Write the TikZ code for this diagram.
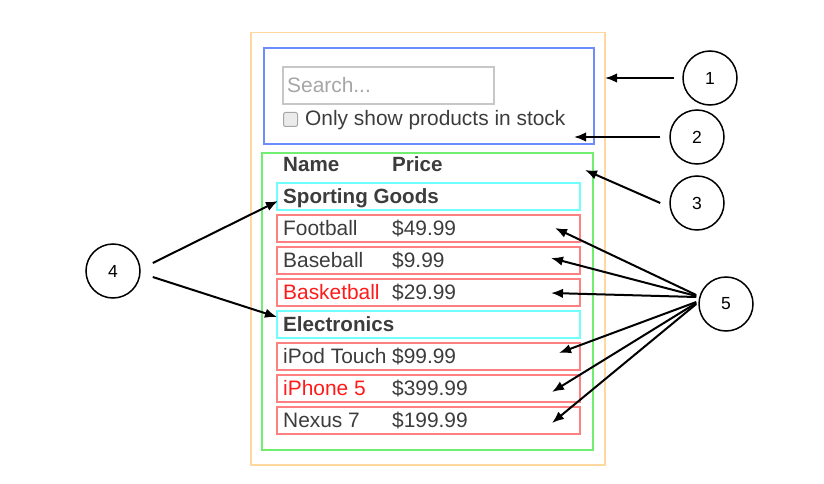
\documentclass[tikz,border=0pt]{standalone}
\usepackage{fontspec}
\setmainfont{Liberation Sans}
\usetikzlibrary{arrows.meta}
\definecolor{appcol}{HTML}{FFD8A0}
\definecolor{barcol}{HTML}{6F8CFF}
\definecolor{tablecol}{HTML}{70EE70}
\definecolor{catcol}{HTML}{70FFFF}
\definecolor{prodcol}{HTML}{FF8080}
\definecolor{txtcol}{HTML}{3C3C3C}
\definecolor{stockcol}{HTML}{FF1A1A}

\begin{document}
\begin{tikzpicture}[x=1pt,y=-1pt]
\tikzstyle{every node}=[font=\fontsize{20.9}{24}\selectfont, inner sep=0pt];
\tikzstyle{frame}=[draw, anchor=north west, line width=1.8pt];
\tikzstyle{rowbox}=[frame, minimum width=303, minimum height=27];
\tikzstyle{catbox}=[rowbox, draw=catcol];
\tikzstyle{prodbox}=[rowbox, draw=prodcol, line width=1.5pt];
\tikzstyle{txt}=[anchor=base west, text=txtcol];
\tikzstyle{bold}=[txt, font=\fontsize{20.6}{24}\selectfont\bfseries];
\tikzstyle{callout}=[draw, circle, line width=1.5pt, minimum size=54, font=\fontsize{17.5}{20}\selectfont];
\tikzstyle{pointer}=[-{Latex[length=12pt,width=9.5pt]}, line width=2pt];

\useasboundingbox (0,0) rectangle (824,484);

\node[frame, draw=appcol, line width=1.5pt, minimum width=354, minimum height=432] (app) at (250,32) {};
\node[frame, draw=barcol, minimum width=330, minimum height=96] (bar) at (263,47) {};
\node[frame, draw=tablecol, minimum width=331, minimum height=297] (table) at (261,152) {};

\node[frame, draw=black!22, line width=2pt, minimum width=211, minimum height=37] (search) at (282,66) {};
\node[txt, text=black!35] (placeholder) at (287,93) {Search...};
\node[frame, draw=black!35, fill=black!8, line width=1pt, rounded corners=2pt, minimum size=14] (check) at (283,112) {};
\node[txt] (stocklabel) at (305,125) {Only show products in stock};

\node[bold] (namehead) at (283,171) {Name};
\node[bold] (pricehead) at (392,171) {Price};

\node[catbox] (sporting) at (276,182) {};
\node[bold] at (283,203) {Sporting Goods};
\node[prodbox] (football) at (276,214) {};
\node[txt] at (283,235) {Football};
\node[txt] at (392,235) {\$49.99};
\node[prodbox] (baseball) at (276,246) {};
\node[txt] at (283,267) {Baseball};
\node[txt] at (392,267) {\$9.99};
\node[prodbox] (basketball) at (276,278) {};
\node[txt, text=stockcol] at (283,299) {Basketball};
\node[txt] at (392,299) {\$29.99};
\node[catbox] (electronics) at (276,310) {};
\node[bold] at (283,331) {Electronics};
\node[prodbox] (ipod) at (276,342) {};
\node[txt] at (283,363) {iPod Touch};
\node[txt] at (392,363) {\$99.99};
\node[prodbox] (iphone) at (276,374) {};
\node[txt, text=stockcol] at (283,395) {iPhone 5};
\node[txt] at (392,395) {\$399.99};
\node[prodbox] (nexus) at (276,406) {};
\node[txt] at (283,427) {Nexus 7};
\node[txt] at (392,427) {\$199.99};

\node[callout] (c1) at (710,78) {1};
\node[callout] (c2) at (697,137) {2};
\node[callout] (c3) at (697,203) {3};
\node[callout] (c4) at (113,271) {4};
\node[callout] (c5) at (726,304) {5};

\coordinate (t1) at (605,78);
\coordinate (t2) at (574,137);
\coordinate (t3) at (585,170);
\coordinate (t4a) at (278,201);
\coordinate (t4b) at (277,317);
\coordinate (t5a) at (555,228);
\coordinate (t5b) at (551,258);
\coordinate (t5c) at (551,293);
\coordinate (t5d) at (559,353);
\coordinate (t5e) at (552,392);
\coordinate (t5f) at (552,423);

\draw[pointer] ([xshift=-8pt]c1.west) -- (t1);
\draw[pointer] ([xshift=-9pt]c2.west) -- (t2);
\draw[pointer] ([xshift=-9pt]c3.west) -- (t3);
\draw[pointer] ([xshift=12pt,yshift=8pt]c4.east) -- (t4a);
\draw[pointer] ([xshift=12pt,yshift=-6pt]c4.east) -- (t4b);
\draw[pointer] ([xshift=-2pt,yshift=9pt]c5.west) -- (t5a);
\draw[pointer] ([xshift=-2pt,yshift=8pt]c5.west) -- (t5b);
\draw[pointer] ([xshift=-2pt,yshift=7pt]c5.west) -- (t5c);
\draw[pointer] ([xshift=-2pt,yshift=2pt]c5.west) -- (t5d);
\draw[pointer] ([xshift=-2pt,yshift=1pt]c5.west) -- (t5e);
\draw[pointer] ([xshift=-2pt]c5.west) -- (t5f);
\end{tikzpicture}
\end{document}
